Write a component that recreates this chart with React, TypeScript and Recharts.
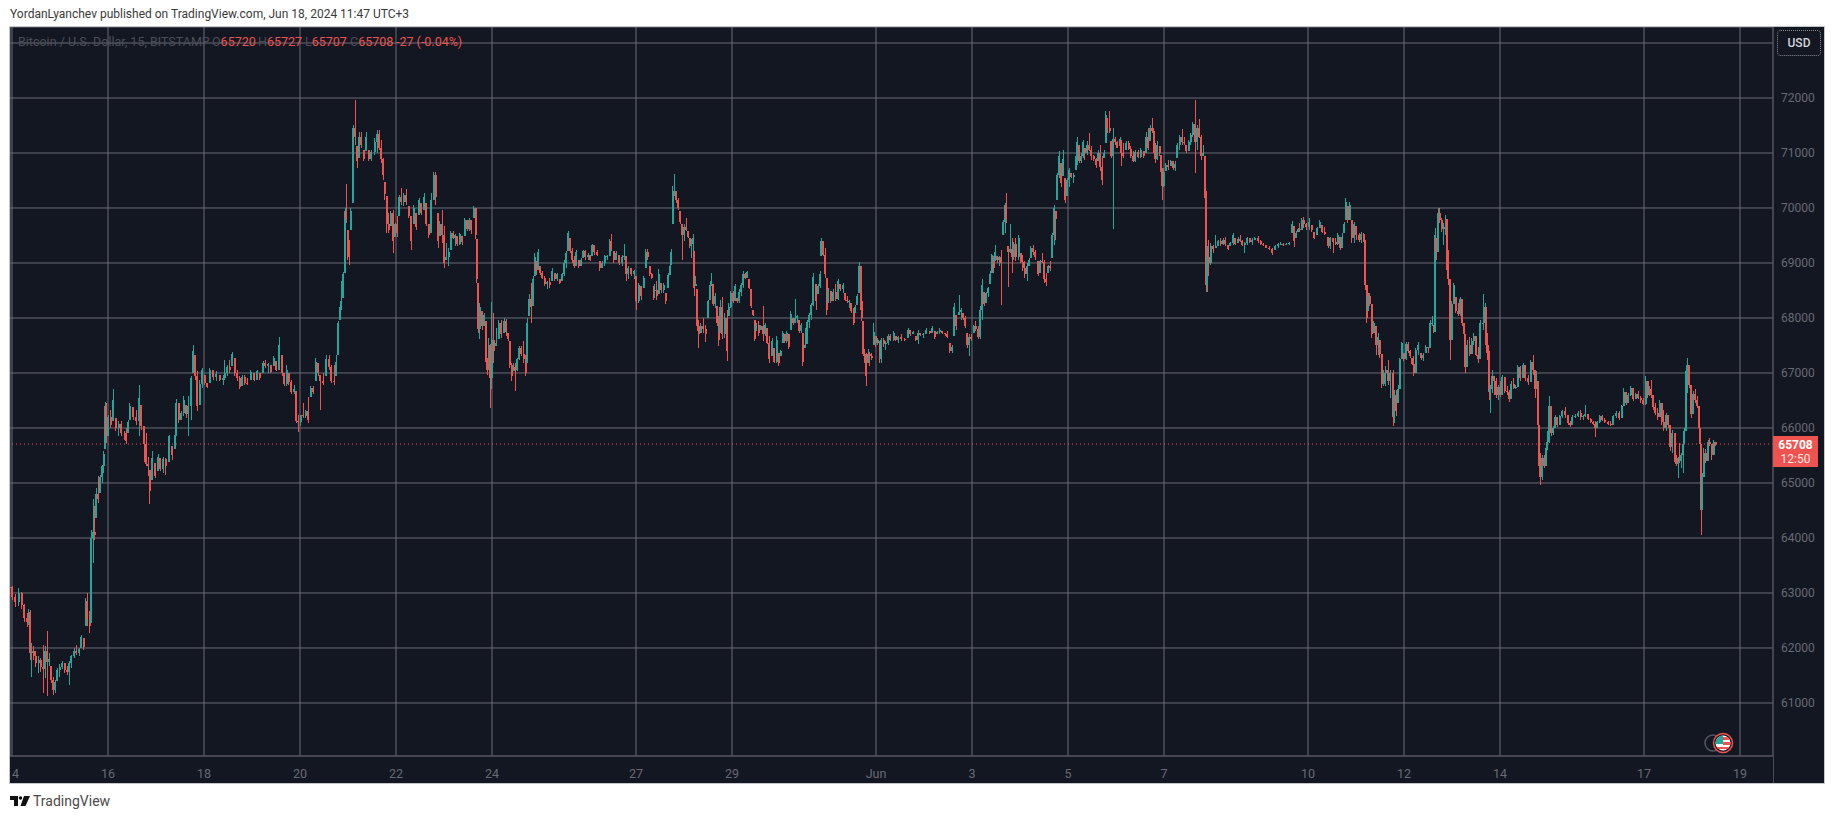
import React from 'react';
import { ComposedChart, Bar, XAxis, YAxis, CartesianGrid, ReferenceLine } from 'recharts';

// rows are [bar number (15 min bars from May 14), high, low, close]; a bar opens at the previous close
const legA = [
[-4,63150,62960,63100],[1,63120,62880,62930],[7,62990,62740,62830],[14,63090,62760,63000],[20,63010,62710,62780],[25,62800,62480,62540],[31,62640,62390,62470],[34,62700,62420,62660],[37,62690,61790,61910],[40,62090,61480,61950],[44,62030,61780,61850],[48,61950,61650,61720],[54,61850,61540,61780],[58,61820,61560,61650],[63,62060,61180,61620],[67,62030,61450,61950],[71,62300,61120,61750],[75,61910,61670,61800],[79,61670,61360,61420],[83,61480,61150,61230],[87,61420,61180,61380],[91,61640,61400,61600],[96,61700,61480,61660],[101,61760,61610,61720],[106,61730,61540,61600],[111,61670,61510,61560],[115,61760,61330,61720],[119,61880,61640,61850],[125,62000,61820,61950],[129,62060,61880,61900],[135,62000,61850,61980],[139,62240,62000,62200],[144,62180,61970,62020],[148,62910,62400,62850],[151,63000,62400,62520],[156,62670,62270,62400],[159,64150,62450,64000],[163,64700,63550,64100],[166,64580,63970,64050],[169,64910,64360,64800],[173,65120,64640,64700],[177,65150,64820,65100],[181,65330,65000,65300],[184,65580,65180,65520],[187,66480,65610,66400],[189,66460,65730,65850],[193,66240,65850,66200],[198,66330,66000,66050],[203,66700,66120,66500],[208,66180,65940,66000],[214,66120,65850,66080],[219,66120,65850,65900],[226,65940,65790,65820],[229,66000,65700,65760],[233,66150,65910,66100],[236,66450,66150,66400],[243,66390,66150,66200],[249,66330,66060,66120],[255,66790,65850,66550],[259,66420,65970,66030],[265,66030,65390,65700],[269,65910,65300,65350],[273,65480,65120,65300],[276,65240,64610,64850],[281,65580,65060,65450],[287,65360,65090,65130],[293,65520,65210,65480],[297,65460,65210,65250],[303,65480,65180,65440],[308,65460,65150,65300],[315,65880,65390,65850],[321,65670,65420,65500],[326,65880,65610,65850],[329,66520,65850,66450],[334,66460,66090,66150],[339,66300,66150,66280],[344,66580,66210,66500],[349,66420,66180,66250],[353,66580,65850,66400],[359,66940,66150,66900],[363,67500,67000,67400],[367,67330,66880,66950],[371,67030,66300,66400],[376,66880,66420,66800],[381,67090,66730,67050],[386,66970,66790,66820],[391,66820,66730,66750],[396,67090,66820,67060],[403,67060,66880,66920],[409,67030,66850,66990],[416,66970,66850,66880],[423,66970,66790,66900],
];

const legB = [
[426,67240,66880,67000],[431,67150,66940,67100],[436,67240,67000,67050],[441,67390,67120,67350],[446,67270,66940,67000],[451,67060,66850,66900],[456,66940,66700,66750],[461,66970,66760,66920],[466,66970,66790,66820],[471,66910,66790,66810],[478,67060,66880,67020],[485,67000,66850,66880],[491,67060,66880,67030],[496,67000,66880,66900],[503,67210,67000,67180],[507,67240,67090,67120],[513,67180,67000,67160],[518,67150,67000,67020],[524,67300,67120,67270],[529,67210,67030,67060],[535,67650,67060,67500],[541,67330,66940,67000],[545,67000,66760,66800],[550,67150,66760,67050],[554,67000,66790,66830],[559,66880,66610,66660],[565,66790,66610,66700],[569,66670,66090,66120],[573,66240,65920,66100],[578,66240,66040,66230],[583,66450,66180,66220],[588,66330,66180,66300],[593,66570,66090,66150],[598,66760,66570,66720],[603,66760,66610,66650],[608,67270,66850,67200],[613,67180,66940,67000],[617,66970,66330,66850],[623,67000,66790,66820],[629,67330,66940,67250],[635,67320,67060,67100],[639,67150,66820,66850],[645,67150,66790,66830],[649,67330,66940,67200],[653,67940,67330,67900],[657,68270,67970,68200],[659,68670,68150,68300],[663,68830,68360,68800],[667,70000,68820,69950],[669,70440,69730,69800],[672,69600,69060,69200],[675,69420,68970,69100],[678,70000,69600,69950],[683,71510,70090,71450],[687,71970,71150,71300],[691,71120,70730,70850],[695,71390,70910,71300],[699,71390,71090,71150],[704,71060,70850,70900],[709,71380,71030,71300],[714,71060,70850,70900],[719,71060,70850,71020],[726,71270,70970,71200],[731,71420,71000,71350],[735,71420,71060,71100],[739,71240,70820,70900],[743,70910,70510,70600],[746,70480,70150,70250],[750,70210,69540,69700],[754,69910,69540,69600],[758,69940,69670,69900],[763,69970,69180,69400],[767,69730,69480,69700],[771,69850,69480,69550],[775,70240,69850,70200],[779,70360,70060,70100],[784,70270,70030,70230],[789,70350,70060,70100],[794,70030,69820,69850],[799,69850,69240,69400],[804,70060,69700,70000],[809,69910,69600,69650],[815,70180,69880,70150],[819,70090,69880,69900],[825,70270,69970,70200],[829,70090,69670,69700],[834,69700,69460,69500],[839,70270,69540,70150],[844,70650,70150,70600],[848,70650,70060,70200],[853,69910,69270,69400],
];

const legC = [
[856,69760,69490,69700],[861,69970,69365,69500],[865,69670,68910,69000],[869,69365,69060,69100],[874,69270,68940,69200],[878,69580,69240,69550],[883,69580,69430,69450],[887,69520,69300,69500],[891,69490,69300,69350],[896,69550,69330,69520],[901,69490,69330,69380],[906,69820,69490,69780],[911,69790,69580,69620],[915,69820,69580,69780],[919,69790,69520,69600],[924,70040,69820,70000],[928,70000,69430,69500],[930,69430,68640,68700],[933,68640,67730,67800],[936,68270,67610,68200],[941,68120,67790,67850],[945,68090,67850,68050],[949,67940,67060,67200],[951,67270,66970,67050],[954,67640,67060,67500],[957,67520,66370,66900],[960,68290,66700,67600],[964,68090,67180,67400],[969,67820,67490,67550],[974,67970,67610,67900],[979,67970,67640,67700],[985,68000,67730,67950],[989,67980,67670,67750],[993,67730,67580,67620],[996,67580,67090,67150],[1000,67180,66850,66950],[1004,67180,67030,67100],[1007,67180,66670,67050],[1011,67270,67030,67250],[1015,67490,67240,67450],[1019,67490,67300,67350],[1024,67580,67180,67250],[1028,67330,66940,67000],[1031,68000,67180,67900],[1035,68430,68030,68350],[1039,68640,67910,68200],[1043,68760,68210,68700],[1046,69180,68760,69100],[1049,69030,68790,68850],[1053,69260,68880,69200],[1057,68940,68790,68820],[1061,68850,68700,68720],[1066,68760,68580,68620],[1071,68670,68520,68650],[1076,68730,68550,68600],[1081,68900,68670,68850],[1086,68820,68670,68700],[1091,68820,68670,68800],[1096,68700,68610,68630],[1101,68820,68670,68800],[1105,69060,68760,69000],[1109,69210,68910,69180],[1113,69580,69210,69550],[1117,69460,69180,69220],[1121,69270,69000,69050],[1125,69120,68910,68950],[1129,69240,68940,69200],[1134,69060,68910,68950],[1139,69090,68940,69060],[1143,69240,69090,69220],[1147,69240,69060,69100],[1153,69180,69050,69150],[1157,69150,69030,69060],[1161,69350,69120,69320],[1165,69330,69150,69200],[1171,69240,69120,69150],[1176,69030,68850,68900],[1181,69030,68910,69000],[1186,69150,68940,69120],[1191,69150,69060,69130],[1196,69430,69120,69400],[1199,69520,69210,69250],[1204,69210,69000,69050],[1209,69210,69060,69180],[1215,69150,68970,69000],[1221,69150,68950,69100],[1225,69350,69060,69120],[1229,69120,68670,68800],[1233,68940,68700,68900],[1239,68910,68760,68800],[1245,68880,68700,68850],[1249,68760,68150,68300],[1254,68640,68270,68600],[1259,68590,68330,68400],[1264,68760,68550,68720],[1268,69260,68910,69200],[1272,69260,69060,69100],[1276,68940,68760,68800],[1280,68820,68700,68720],[1284,68590,68330,68500],
];

const legD = [
[1286,68610,68370,68500],[1290,68670,68330,68400],[1294,68890,68430,68800],[1299,68640,68460,68500],[1304,68640,68460,68600],[1308,68460,68260,68300],[1313,68820,68550,68780],[1317,68990,68790,68950],[1319,69260,68970,69200],[1322,70400,69700,70300],[1325,70610,70210,70300],[1329,70300,70090,70150],[1333,70180,69970,70000],[1337,69940,69700,69750],[1341,69700,69060,69500],[1345,69700,69400,69650],[1349,69820,69580,69600],[1353,69580,69460,69480],[1356,69460,69270,69300],[1359,69430,69090,69350],[1363,69530,69180,69450],[1365,69210,68400,68550],[1368,68760,68580,68620],[1371,68520,67760,67850],[1374,67970,67460,67700],[1378,67910,67730,67850],[1383,68000,67730,67800],[1388,67880,67560,67700],[1393,68330,68000,68300],[1397,68670,68330,68600],[1399,68820,68580,68650],[1403,68610,68210,68250],[1407,68460,68180,68400],[1411,68210,67850,67900],[1414,68030,67490,67600],[1417,68330,67730,68200],[1421,68380,67610,67700],[1426,68090,67640,68000],[1431,68150,67210,67400],[1434,68270,68030,68200],[1438,68490,68180,68450],[1443,68490,68270,68300],[1447,68610,68300,68580],[1451,68370,68270,68300],[1455,68520,68270,68480],[1459,68640,68400,68600],[1463,68850,68550,68800],[1467,68820,68700,68720],[1471,68850,68730,68830],[1475,68700,68520,68550],[1479,68520,68180,68220],[1483,68150,68040,68060],[1486,67970,67580,67620],[1489,67910,67760,67880],[1494,67950,67670,67720],[1498,67880,67790,67850],[1503,68210,67580,67700],[1507,67910,67670,67880],[1511,67820,67520,67550],[1515,67670,67180,67250],[1521,67640,67300,67580],[1525,67460,67180,67200],[1530,67670,67180,67600],[1534,67360,67130,67180],[1538,67420,67300,67400],[1542,67760,67550,67730],[1546,67700,67550,67580],[1550,67770,67550,67720],[1554,67700,67430,67480],[1558,68120,67790,68080],[1563,68000,67880,67900],[1567,68350,67910,68000],[1571,68060,67910,68030],[1575,67970,67730,67760],[1579,67910,67730,67880],[1582,67730,67120,67200],[1587,67820,67460,67500],[1591,67970,67520,67920],[1595,68090,67820,68050],[1599,68270,67970,68230],[1603,68810,68210,68750],[1609,68610,68150,68300],[1613,68610,68430,68580],[1617,68850,68550,68800],[1619,69460,69120,69400],[1623,69400,69120,69150],[1627,69270,68730,68800],[1630,68730,68060,68150],[1633,68550,68270,68500],[1638,68490,68270,68300],[1643,68520,68300,68480],[1648,68610,68300,68350],[1653,68710,68330,68680],[1657,68610,68490,68520],[1663,68640,68460,68600],[1667,68460,68300,68330],[1671,68400,68270,68300],[1675,68330,68180,68300],[1679,68270,68090,68120],[1684,68180,67880,67900],[1687,68240,68090,68200],[1691,68440,68240,68400],[1695,69020,68460,68950],[1698,68940,68150,68300],[1700,68430,67940,68000],[1703,67940,67300,67350],[1706,67430,67180,67250],[1709,67370,66760,66950],[1713,67430,67180,67350],
];

const legE = [
[1716,67390,67120,67300],[1720,67360,67240,67280],[1724,67910,67510,67750],[1728,67670,67480,67550],[1732,67640,67510,67600],[1736,67580,67180,67250],[1739,67640,67180,67600],[1744,67640,67480,67520],[1748,67580,67420,67550],[1753,67700,67510,67680],[1757,67700,67580,67600],[1764,67760,67580,67720],[1768,67670,67580,67600],[1773,67680,67550,67650],[1779,67700,67580,67620],[1786,67640,67580,67600],[1793,67820,67640,67780],[1797,67790,67670,67700],[1803,67760,67700,67750],[1808,67670,67580,67600],[1813,67790,67530,67720],[1817,67730,67670,67690],[1823,67730,67640,67710],[1829,67820,67700,67790],[1836,67760,67710,67730],[1841,67850,67730,67820],[1846,67760,67610,67650],[1851,67760,67700,67740],[1856,67820,67700,67780],[1861,67760,67700,67720],[1867,67730,67670,67700],[1871,67760,67640,67660],[1876,67540,67360,67400],[1881,67510,67360,67480],[1885,68270,67670,68200],[1889,68060,67790,67850],[1895,68420,68060,68100],[1899,68180,67970,68150],[1903,68090,67970,68000],[1907,68030,67820,67850],[1911,67730,67450,67500],[1915,67700,67300,67650],[1919,67700,67580,67620],[1924,67880,67730,67850],[1928,67940,67760,67800],[1933,67850,67610,67650],[1937,68210,67610,68150],[1941,68700,67970,68600],[1945,68480,68210,68250],[1949,68480,68270,68450],[1953,68570,68390,68550],[1957,68850,68610,68800],[1960,69170,68820,69150],[1964,69120,68820,68900],[1967,69330,69030,69200],[1971,69120,69000,69050],[1975,69120,68940,69100],[1979,69240,68240,69000],[1983,69790,69510,69750],[1987,70090,69540,70050],[1989,70270,69730,69800],[1993,69300,68570,69200],[1997,69700,69180,69250],[2001,69450,68820,69100],[2004,69390,69060,69350],[2008,69450,69030,69100],[2014,69500,69060,69450],[2018,69180,69000,69020],[2022,69150,68850,68900],[2026,69030,68730,68800],[2031,69000,68670,68950],[2035,69090,68940,69050],[2038,69300,69090,69280],[2043,69330,69150,69200],[2047,69240,69060,69100],[2053,69030,68760,68800],[2057,69060,68820,69030],[2061,69180,69000,69020],[2065,69060,68640,68700],[2069,68820,68580,68650],[2073,68970,68820,68950],[2077,69030,68850,68900],[2081,69540,69090,69500],[2085,70060,69330,70000],[2088,69940,69420,69800],[2091,70640,70150,70600],[2095,71040,70540,70950],[2099,70820,70390,70450],[2103,71060,70580,70900],[2107,70540,70090,70150],[2111,70540,70210,70500],[2115,70730,70390,70700],[2119,70640,70540,70560],[2124,70640,70450,70600],[2128,70940,70700,70900],[2131,71290,70790,71200],[2135,71150,70820,70850],[2139,71000,70820,70950],[2143,71240,70910,71200],
];

const legF = [
[2146,71090,70880,71000],[2151,71210,70970,71150],[2155,71360,71030,71050],[2159,71120,70880,70950],[2164,70970,70850,70900],[2169,70910,70730,70780],[2173,71060,70850,71000],[2177,71150,70670,70750],[2181,70940,70420,70500],[2185,71060,70910,71000],[2188,71760,71180,71700],[2191,71640,71360,71450],[2196,71760,71360,71400],[2199,71210,70910,70950],[2203,71450,69620,71250],[2207,71300,71150,71200],[2211,71210,71090,71100],[2217,71300,71120,71250],[2219,71240,70770,71000],[2223,71180,70910,70950],[2229,71210,71060,71180],[2234,71210,71060,71080],[2238,71120,70910,70950],[2243,71030,70830,70850],[2247,71060,70830,71020],[2253,71060,70910,70930],[2258,71090,70910,71050],[2264,71030,70910,70940],[2269,71390,71000,71300],[2273,71450,71060,71100],[2277,71510,71210,71450],[2281,71640,71360,71400],[2284,71450,71000,71050],[2287,71180,70820,70900],[2291,71210,70880,71150],[2296,71120,70940,71000],[2299,70970,70590,70650],[2301,70730,70140,70400],[2304,70730,70390,70650],[2308,70820,70670,70780],[2313,70880,70700,70750],[2318,70880,70760,70850],[2323,70850,70700,70720],[2327,70850,70670,70800],[2331,71180,70910,71150],[2336,71330,71060,71300],[2341,71430,71150,71200],[2345,71300,71150,71180],[2349,71150,71000,71030],[2354,71240,71030,71200],[2358,71360,71150,71320],[2362,71570,71300,71530],[2367,71970,70640,71200],[2371,71510,71060,71450],[2375,71620,71270,71300],[2379,71330,70880,70950],[2383,71150,70940,71000],[2386,70940,70180,70250],[2389,70300,68470,68600],[2391,69300,68480,69100],[2394,69420,68760,69000],[2398,69360,68970,69300],[2403,69330,69180,69250],[2408,69510,69270,69300],[2413,69420,69300,69400],[2418,69450,69300,69350],[2423,69450,69330,69420],[2427,69480,69300,69350],[2433,69330,69230,69250],[2437,69390,69300,69370],[2443,69540,69330,69500],[2447,69450,69330,69350],[2453,69480,69360,69440],[2457,69510,69390,69400],[2461,69420,69300,69320],[2466,69390,69180,69370],[2471,69480,69330,69450],[2476,69450,69360,69380],[2481,69450,69330,69420],[2486,69480,69420,69460],[2493,69490,69360,69400],[2498,69420,69330,69350],[2503,69360,69300,69320],[2509,69330,69270,69280],[2515,69300,69240,69260],[2521,69270,69150,69180],[2527,69330,69240,69310],[2533,69360,69270,69340],[2538,69390,69330,69350],[2543,69360,69300,69340],[2549,69360,69330,69350],[2555,69390,69330,69370],[2561,69770,69540,69700],[2565,69670,69290,69400],[2569,69580,69460,69550],[2573,69640,69560,69620],
];

const legG = [
[2576,69720,69570,69600],[2580,69810,69600,69780],[2584,69840,69630,69700],[2589,69720,69600,69650],[2595,69810,69600,69750],[2600,69690,69570,69600],[2605,69570,69430,69450],[2611,69660,69510,69640],[2616,69780,69630,69750],[2621,69690,69540,69570],[2626,69660,69510,69530],[2633,69480,69270,69300],[2637,69480,69250,69450],[2643,69450,69180,69380],[2648,69450,69330,69350],[2652,69540,69330,69500],[2657,69480,69240,69280],[2661,69540,69270,69480],[2665,69750,69540,69700],[2668,70180,69790,70100],[2672,70030,69720,69780],[2676,70100,69790,70050],[2680,69790,69360,69450],[2685,69750,69360,69700],[2689,69680,69420,69500],[2695,69540,69390,69420],[2699,69570,69360,69520],[2704,69540,69390,69400],[2707,69420,68510,68600],[2710,68600,67910,68000],[2713,68450,68120,68400],[2716,68450,68210,68250],[2720,68250,67630,67700],[2724,67940,67720,67900],[2729,67850,67330,67500],[2733,67720,67330,67650],[2736,67600,67270,67350],[2740,67350,66730,66800],[2744,67060,66760,67000],[2748,67120,66760,67050],[2753,67240,66790,66850],[2757,67060,66540,67000],[2763,67060,66030,66200],[2765,66690,66090,66600],[2769,66690,66210,66300],[2773,66780,66450,66700],[2776,67270,66700,67250],[2780,67570,67250,67550],[2784,67360,67210,67250],[2789,67570,67240,67520],[2793,67570,67360,67400],[2797,67420,67270,67300],[2801,67270,67150,67170],[2804,67300,66940,67000],[2808,67450,67000,67420],[2813,67570,67330,67500],[2819,67360,67240,67270],[2823,67360,67210,67330],[2828,67510,67360,67480],[2833,67480,67360,67450],[2837,67970,67450,67900],[2841,68030,67850,67900],[2844,67880,67730,67750],[2847,69630,67750,69500],[2849,69450,69060,69200],[2853,70000,69200,69900],[2856,70000,69720,69780],[2860,69820,69570,69620],[2864,69720,69330,69650],[2868,69880,69510,69800],[2870,69800,68880,68950],[2873,69240,68600,68700],[2877,68700,67240,67600],[2880,68300,67600,68250],[2884,68630,68250,68600],[2888,68390,68090,68120],[2893,68270,68030,68080],[2897,68390,68030,68350],[2901,68350,67850,67900],[2905,67910,67660,67700],[2907,67700,67000,67100],[2911,67600,67100,67500],[2916,67660,67300,67350],[2920,67630,67350,67580],[2924,67720,67510,67680],[2929,67680,67300,67330],[2933,67480,67180,67250],[2937,67970,67250,67900],[2943,68440,67790,67900],[2947,68270,67660,68200],[2949,68200,67360,67500],[2952,67720,67240,67400],[2955,67400,66510,66650],[2957,66790,66270,66700],[2961,67060,66630,66950],[2965,66950,66600,66850],[2969,66910,66540,66600],[2973,66790,66510,66750],[2977,66850,66570,66600],[2981,66970,66600,66930],[2986,66930,66630,66680],[2991,66760,66600,66650],[2995,66690,66480,66520],
];

const legH = [
[2999,66850,66520,66800],[3004,66910,66700,66720],[3008,66790,66700,66750],[3012,67150,66750,67100],[3017,67120,66850,66900],[3023,67180,66900,67150],[3027,67150,66850,66900],[3033,66970,66790,66830],[3038,67240,66830,67200],[3043,67330,66970,67050],[3047,67050,66540,66700],[3050,67030,66700,66850],[3053,66850,65970,66050],[3055,66050,65180,65300],[3057,65550,64960,65100],[3061,65510,65060,65450],[3065,65510,65270,65300],[3068,65640,65300,65600],[3071,65940,65600,65750],[3075,66580,65730,66400],[3079,66400,65850,65900],[3083,66030,65880,66000],[3087,66240,66000,66200],[3091,66200,66020,66050],[3096,66240,66050,66220],[3101,66330,66180,66300],[3107,66380,66180,66230],[3113,66230,66060,66090],[3117,66120,66020,66050],[3121,66240,66050,66200],[3127,66260,66180,66220],[3133,66300,66200,66280],[3138,66320,66150,66200],[3143,66240,66150,66220],[3147,66420,66200,66250],[3153,66250,66150,66170],[3158,66180,66090,66110],[3163,66120,66060,66080],[3167,66120,65840,66000],[3171,66120,66000,66100],[3176,66240,66090,66220],[3181,66240,66120,66150],[3186,66180,66090,66110],[3193,66120,66060,66080],[3198,66120,66030,66050],[3203,66240,66050,66220],[3209,66300,66180,66270],[3215,66300,66150,66180],[3220,66420,66180,66400],[3224,66730,66400,66650],[3229,66650,66420,66450],[3233,66640,66450,66600],[3238,66760,66580,66720],[3243,66720,66490,66530],[3248,66640,66520,66610],[3253,66670,66520,66550],[3258,66580,66450,66500],[3263,66550,66420,66440],[3268,66940,66420,66850],[3272,66850,66540,66600],[3276,66760,66580,66700],[3279,66880,66540,66600],[3283,66600,66330,66380],[3287,66450,66240,66280],[3292,66360,66150,66200],[3296,66510,66200,66450],[3300,66450,66060,66100],[3304,66330,65940,66000],[3309,66270,65940,66230],[3313,66230,66000,66050],[3317,66050,65580,65650],[3321,65970,65550,65900],[3326,65900,65390,65450],[3329,65510,65300,65350],[3333,65480,65090,65450],[3336,65730,65360,65400],[3339,65550,65270,65500],[3343,65760,65180,65700],[3345,66000,65700,65950],[3348,67030,65950,66950],[3351,67270,66640,67150],[3355,67150,66730,66780],[3359,66780,66180,66250],[3363,66670,66250,66620],[3367,66700,66450,66500],[3371,66580,66360,66400],[3375,66400,65970,66000],[3377,66000,65670,65700],[3379,65700,64060,64500],[3381,65180,64500,65100],[3384,65640,65100,65550],[3388,65610,65360,65400],[3393,65790,65400,65750],[3396,65820,65670,65700],[3400,65700,65420,65500],[3404,65790,65500,65750],[3408,65750,65670,65708],
];

const lastPrice = 65708;
const priceTicks = [61000, 62000, 63000, 64000, 65000, 66000, 67000, 68000, 69000, 70000, 71000, 72000, 73000];
const dayTicks = [0, 192, 384, 576, 768, 960, 1248, 1440, 1728, 1920, 2112, 2304, 2592, 2784, 2976, 3264, 3456];
const dayLabels = ['14', '16', '18', '20', '22', '24', '27', '29', 'Jun', '3', '5', '7', '10', '12', '14', '17', '19'];

const UP = '#26a69a';
const DOWN = '#ef5350';
const GRID = '#6b6c75';
const AXIS = '#4a4b55';
const LABEL = '#686a74';
const PANEL = '#131722';

const rows = [...legA, ...legB, ...legC, ...legD, ...legE, ...legF, ...legG, ...legH];
const candles = rows.map(([t, high, low, close], i) => {
  const prev = i === 0 ? close : rows[i - 1][3];
  const open = Math.min(high, Math.max(low, prev));
  return { t, open, high, low, close };
});

// wick plus body, both taken from the rectangle the bar scale gives for low..high
function Candle(props: any) {
  const { x, y, width, height, payload } = props;
  const { open, high, low, close } = payload;
  const perUsd = height / (high - low);
  const mid = x + width / 2;
  const color = close >= open ? UP : DOWN;
  const bodyTop = y + (high - Math.max(open, close)) * perUsd;
  const bodyH = Math.max(1, Math.abs(open - close) * perUsd);
  return (
    <g shapeRendering="crispEdges">
      <rect x={mid - 0.5} y={y} width={1} height={height} fill={color} />
      <rect x={mid - 1} y={bodyTop} width={2} height={bodyH} fill={color} />
    </g>
  );
}

const font = 'Roboto, "Liberation Sans", sans-serif';

export default function App() {
  return (
    <div style={{ position: 'absolute', left: 0, top: 0, width: 1835, height: 819, background: '#fff', overflow: 'hidden', fontFamily: font }}>
      <div style={{ position: 'absolute', left: 10, top: 7, fontSize: 12, color: '#3a3a3a', whiteSpace: 'nowrap' }}>
        YordanLyanchev published on TradingView.com, Jun 18, 2024 11:47 UTC+3
      </div>

      <div style={{ position: 'absolute', left: 10, top: 27, width: 1814, height: 756, background: PANEL, outline: '1px solid #c4c6cc' }}>
        <ComposedChart width={1814} height={756} data={candles} margin={{ top: 0, right: 0, bottom: 0, left: 0 }}>
          <CartesianGrid stroke={GRID} strokeWidth={1} />
          <XAxis
            dataKey="t"
            type="number"
            domain={[-4, 3522]}
            allowDataOverflow
            ticks={dayTicks}
            interval={0}
            height={27}
            tickLine={false}
            stroke={AXIS}
            tickMargin={7}
            tick={{ fill: LABEL, fontSize: 12.5, fontFamily: font }}
            tickFormatter={(v: number) => dayLabels[dayTicks.indexOf(v)]}
          />
          <YAxis
            orientation="right"
            type="number"
            domain={[60036, 73291]}
            allowDataOverflow
            ticks={priceTicks}
            interval={0}
            width={51}
            tickLine={false}
            tickSize={0}
            tickMargin={8}
            stroke={AXIS}
            tick={{ fill: LABEL, fontSize: 12, fontFamily: font, textAnchor: 'start' }}
            tickFormatter={(v: number) => (v === 73000 ? '' : String(v))}
          />
          <ReferenceLine y={lastPrice} stroke={DOWN} strokeDasharray="1 3" />
          <Bar dataKey={(d: any) => [d.low, d.high]} barSize={2} shape={Candle} isAnimationActive={false} />
        </ComposedChart>
      </div>

      {/* axis divider continues under the time scale */}
      <div style={{ position: 'absolute', left: 1773, top: 756, width: 1, height: 27, background: AXIS }} />

      <div style={{ position: 'absolute', left: 18, top: 34, fontSize: 12.5, whiteSpace: 'nowrap', color: '#4b4e59', display: 'flex' }}>
        <span style={{ width: 194 }}>Bitcoin / U.S. Dollar, 15, BITSTAMP</span>
        <span style={{ width: 46 }}>O<span style={{ color: DOWN }}>65720</span></span>
        <span style={{ width: 47 }}>H<span style={{ color: DOWN }}>65727</span></span>
        <span style={{ width: 45 }}>L<span style={{ color: DOWN }}>65707</span></span>
        <span style={{ width: 46 }}>C<span style={{ color: DOWN }}>65708</span></span>
        <span style={{ color: DOWN }}>-27 (-0.04%)</span>
      </div>

      <div style={{ position: 'absolute', left: 1777, top: 30, width: 44, height: 26, border: '1px dotted #8a8a92', borderRadius: 4, boxSizing: 'border-box', color: '#d4d4d8', fontSize: 12, fontWeight: 500, textAlign: 'center', lineHeight: '24px' }}>
        USD
      </div>

      <div style={{ position: 'absolute', left: 1773, top: 436, width: 45, height: 31, background: DOWN, color: '#fff', fontSize: 12, textAlign: 'center', lineHeight: '14px', paddingTop: 2, boxSizing: 'border-box' }}>
        <div style={{ fontWeight: 700 }}>{lastPrice}</div>
        <div style={{ opacity: 0.85 }}>12:50</div>
      </div>

      <svg style={{ position: 'absolute', left: 1700, top: 728, width: 36, height: 30 }} viewBox="0 0 36 30">
        <circle cx={13} cy={15} r={8} fill="none" stroke="#55565f" strokeWidth={1.5} />
        <circle cx={23} cy={15} r={9.5} fill={PANEL} stroke={DOWN} strokeWidth={1.5} />
        <clipPath id="flag"><circle cx={23} cy={15} r={7.5} /></clipPath>
        <g clipPath="url(#flag)">
          <rect x={15} y={7} width={16} height={16} fill="#fff" />
          <rect x={23} y={9} width={8} height={3} fill={DOWN} />
          <rect x={23} y={14} width={8} height={3} fill={DOWN} />
          <rect x={15} y={19} width={16} height={2} fill={DOWN} />
          <rect x={15} y={7} width={8} height={9} fill={UP} />
        </g>
      </svg>

      <svg style={{ position: 'absolute', left: 10, top: 796, width: 20, height: 11 }} viewBox="0 0 20 11">
        <path d="M0 0H8V10H4V4H0Z" fill="#111" />
        <circle cx={10.5} cy={2} r={1.8} fill="#111" />
        <path d="M14 0H20L15.5 10H10.5Z" fill="#111" />
      </svg>
      <div style={{ position: 'absolute', left: 33, top: 793, fontSize: 14, color: '#4a4a4a' }}>TradingView</div>
    </div>
  );
}
